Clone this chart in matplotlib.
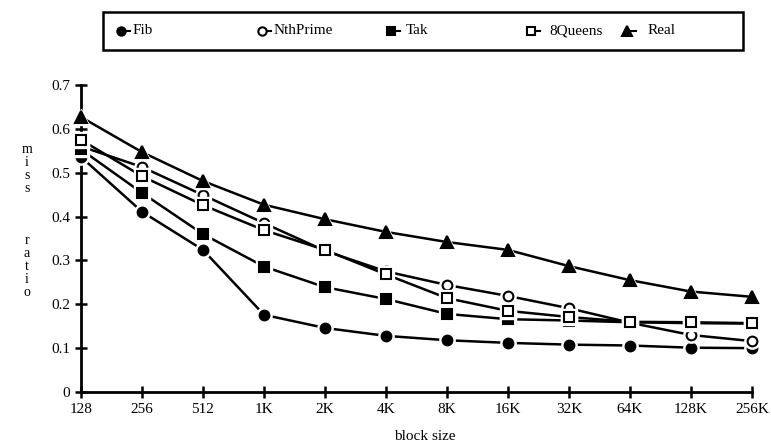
import numpy as np
import matplotlib.pyplot as plt
from matplotlib.lines import Line2D

plt.rcParams['font.family'] = ['Liberation Serif', 'DejaVu Serif']

# Datos
block_sizes = ['128', '256', '512', '1K', '2K', '4K', '8K', '16K', '32K', '64K', '128K', '256K']
fib = [0.536, 0.411, 0.324, 0.176, 0.146, 0.128, 0.118, 0.112, 0.108, 0.106, 0.101, 0.100]
nthprime = [0.560, 0.513, 0.449, 0.385, 0.322, 0.275, 0.244, 0.219, 0.191, 0.158, 0.130, 0.116]
tak = [0.553, 0.454, 0.360, 0.286, 0.239, 0.212, 0.178, 0.166, 0.163, 0.159, 0.157, 0.156]
queens = [0.575, 0.492, 0.426, 0.369, 0.324, 0.268, 0.214, 0.185, 0.171, 0.160, 0.159, 0.157]
real = [0.627, 0.547, 0.481, 0.427, 0.394, 0.365, 0.342, 0.324, 0.287, 0.255, 0.229, 0.217]

names = ['Fib', 'NthPrime', 'Tak', '8Queens', 'Real']
series = [fib, nthprime, tak, queens, real]
markers = ['o', 'o', 's', 's', '^']
faces = ['black', 'white', 'black', 'white', 'black']
sizes = [7, 7, 7, 7, 8]

W, H = 771, 446
fig = plt.figure(figsize=(W / 100, H / 100), dpi=100)
ax = fig.add_axes([81 / W, 54 / H, 671 / W, 307 / H])

x = np.arange(len(block_sizes))

# lineas primero
for vals in series:
    ax.plot(x, vals, '-', color='black', lw=1.8, zorder=2, clip_on=False)

# marcadores con halo blanco (huecos en las lineas)
z = 3
for vals, m, fc, ms in zip(series, markers, faces, sizes):
    ax.plot(x, vals, ls='none', marker=m, ms=ms + 4, mfc='white', mec='white',
            zorder=z, clip_on=False)
    ax.plot(x, vals, ls='none', marker=m, ms=ms, mfc=fc, mec='black', mew=1.5,
            zorder=z + 1, clip_on=False)
    z += 2

ax.set_xlim(0, len(block_sizes) - 1)
ax.set_ylim(0, 0.7)
ax.set_xticks(x)
ax.set_xticklabels(block_sizes)
ax.set_yticks(np.arange(0, 0.71, 0.1))
ax.set_yticklabels(['0', '0.1', '0.2', '0.3', '0.4', '0.5', '0.6', '0.7'])
ax.tick_params(direction='inout', length=8, width=1.8, labelsize=11, pad=4)
for s in ['top', 'right']:
    ax.spines[s].set_visible(False)
for s in ['left', 'bottom']:
    ax.spines[s].set_linewidth(2)

fig.text(425 / W, 1 - 437 / H, 'block size', ha='center', va='center', fontsize=11)

# etiqueta vertical "miss ratio", una letra por linea
ylab = '\n'.join(['m', 'i', 's', 's', '', '', '', 'r', 'a', 't', 'i', 'o'])
fig.text(27 / W, 1 - 221 / H, ylab, ha='center', va='center', fontsize=10,
         linespacing=1.0)

# leyenda manual en un recuadro
box_l, box_r, box_t, box_b = 103, 743, 12, 50
fig.add_artist(plt.Rectangle((box_l / W, 1 - box_b / H), (box_r - box_l) / W,
                             (box_b - box_t) / H, transform=fig.transFigure,
                             fill=False, lw=1.8, ec='black'))
mark_x = [121, 262, 391, 531, 627]
text_x = [133, 274, 406, 549, 648]
ly = 1 - 31 / H
for name, m, fc, ms, mx, tx in zip(names, markers, faces, sizes, mark_x, text_x):
    fig.add_artist(Line2D([(mx + 4) / W, (mx + 9) / W], [ly, ly], color='black',
                          lw=1.5, transform=fig.transFigure))
    fig.add_artist(Line2D([mx / W], [ly], marker=m, ms=ms - 1, mfc=fc, mec='black',
                          mew=1.5, ls='none', transform=fig.transFigure))
    fig.text(tx / W, ly, name, ha='left', va='center', fontsize=11)

fig.savefig('out.png', dpi=100)
